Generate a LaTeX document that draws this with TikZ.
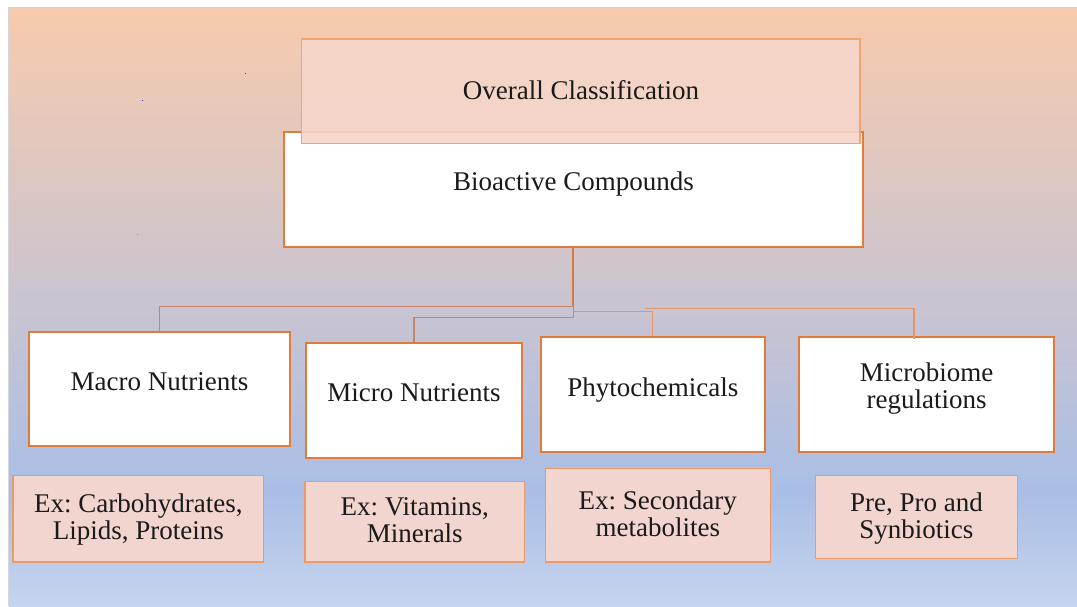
\documentclass[tikz,border=0pt]{standalone}
\usepackage{fontspec}
\setmainfont{Liberation Serif}
\usetikzlibrary{calc}
\frenchspacing
\definecolor{bgA}{HTML}{C6D4EE}
\definecolor{bgB}{HTML}{A9BEE6}
\definecolor{bgC}{HTML}{CAC4D0}
\definecolor{bgD}{HTML}{F7CBAD}
\definecolor{boxOr}{HTML}{E07B39}
\definecolor{exOr}{HTML}{EE9A66}
\definecolor{exFill}{HTML}{F2D5CE}
\definecolor{ovFill}{HTML}{F6D5CA}
\definecolor{ovOr}{HTML}{F3A36E}
\definecolor{connAcol}{HTML}{C4856B}
\definecolor{connBcol}{HTML}{E3956A}
\definecolor{connMcol}{HTML}{D27B45}
\definecolor{txt}{HTML}{1A1A1A}
\definecolor{edgegray}{HTML}{D4D6DC}
\pgfdeclareverticalshading{bgshade}{100bp}{color(0bp)=(bgA); color(25bp)=(bgA); color(34.5bp)=(bgB); color(50.5bp)=(bgC); color(75bp)=(bgD); color(100bp)=(bgD)}
\newcommand{\mytwolines}[2]{\begin{tabular}[t]{@{}c@{}}#1\\#2\end{tabular}}
\begin{document}
\frenchspacing
\begin{tikzpicture}[x=1pt,y=-1pt,
  mainbox/.style={draw=boxOr, line width=2pt, fill=white, inner sep=0pt},
  exbox/.style={draw=exOr, line width=1.3pt, fill=exFill, inner sep=0pt},
  ovbox/.style={draw=ovOr, line width=1.3pt, fill=ovFill, fill opacity=0.92, inner sep=0pt},
  lbl/.style={font=\fontsize{27}{27.2}\selectfont\frenchspacing, text=txt, inner sep=0pt, anchor=base},
  connA/.style={draw=connAcol, line width=1.5pt},
  connB/.style={draw=connBcol, line width=1.2pt},
  connM/.style={draw=connMcol, line width=2pt}]
\useasboundingbox (0,0) rectangle (1077,606);
\fill[white] (0,0) rectangle (1077,606);
\shade[shading=bgshade] (9,7) rectangle (1077,606);
\draw[edgegray, line width=1pt] (8.5,7) -- (8.5,606);
% specks
\fill[blue!50!gray] (141.5,99.5) rectangle (143,101);
\fill[blue!50!gray] (244.5,72.5) rectangle (246,74);
\fill[orange!80!gray] (136.5,233.5) rectangle (138,235);
% upper boxes
\node[mainbox, minimum width=579.3pt, minimum height=115pt] (bio) at (573.35,189.8) {};
\node[ovbox, minimum width=558.2pt, minimum height=104.7pt] (ov) at (580.9,91.35) {};
\node[mainbox, minimum width=261pt, minimum height=114.8pt] (macro) at (159.5,388.9) {};
\node[mainbox, minimum width=216.2pt, minimum height=115pt] (micro) at (413.9,400.5) {};
\node[mainbox, minimum width=223.5pt, minimum height=115pt] (phyto) at (652.75,394.8) {};
\node[mainbox, minimum width=254.7pt, minimum height=115pt] (mb) at (926.65,394.8) {};
% example boxes
\node[exbox, minimum width=250.7pt, minimum height=86.3pt] (exA) at (138.45,518.85) {};
\node[exbox, minimum width=219.3pt, minimum height=80.3pt] (exB) at (414.75,521.85) {};
\node[exbox, minimum width=225pt, minimum height=93.3pt] (exC) at (657.8,515.35) {};
\node[exbox, minimum width=202.3pt, minimum height=83pt] (exD) at (916.45,517.2) {};
% labels
\node[lbl] (tov) at (580.9,99) {Overall Classification};
\node[lbl] (tbio) at (573.4,190.7) {Bioactive Compounds};
\node[lbl] (tmacro) at (159.5,390) {Macro Nutrients};
\node[lbl] (tmicro) at (413.9,401.5) {Micro Nutrients};
\node[lbl] (tphyto) at (652.75,396) {Phytochemicals};
\node[lbl] (tmb) at (926.65,381.7) {\mytwolines{Microbiome}{regulations}};
\node[lbl] (texA) at (138.45,512.7) {\mytwolines{Ex: Carbohydrates,}{Lipids, Proteins}};
\node[lbl] (texB) at (414.75,515) {\mytwolines{Ex: Vitamins,}{Minerals}};
\node[lbl] (texC) at (657.8,509) {\mytwolines{Ex: Secondary}{metabolites}};
\node[lbl] (texD) at (916.45,511.7) {\mytwolines{Pre, Pro and}{Synbiotics}};
% connectors
\coordinate (j1) at ($(bio.south)+(0,58)$);
\draw[connA] (j1) -| (macro.north);
\draw[connA] (j1) -- ++(0,11) -| (micro.north);
\draw[connM] (bio.south) -- (j1);
\draw[connB] ($(bio.south)+(0,63.5)$) -| (phyto.north);
\draw[connB] ($(phyto.north)+(-8,-27.5)$) -| ($(mb.north)+(-12.6,3)$);
\end{tikzpicture}
\end{document}
